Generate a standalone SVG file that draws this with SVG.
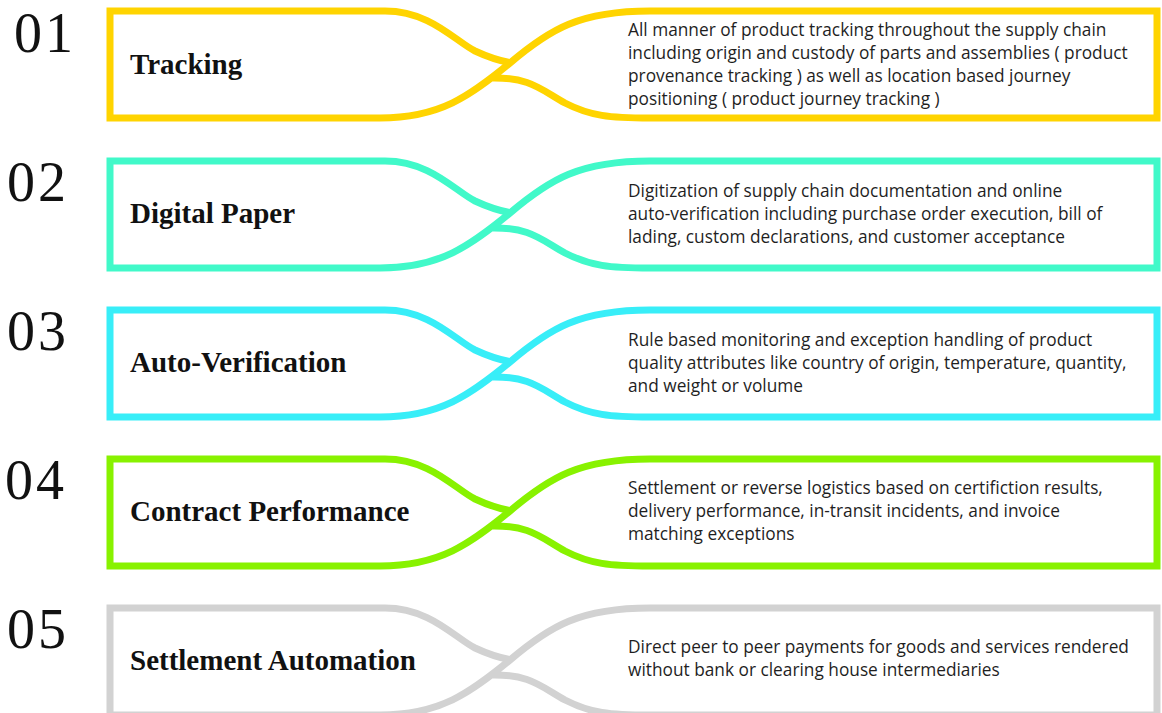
<svg xmlns="http://www.w3.org/2000/svg" width="1162" height="713" viewBox="0 0 1162 713">
<style>
.ribbon{fill:none;stroke-width:7;stroke-linejoin:miter;stroke-linecap:butt}
.num{font-family:"Liberation Serif",serif;font-size:56px;fill:#111;letter-spacing:3px}
.title{font-family:"Liberation Serif",serif;font-weight:bold;font-size:29px;fill:#111}
.desc{font-family:"Open Sans",sans-serif;font-size:17.3px;fill:#1f1f1f}
</style>
<defs>
<path id="twist" class="ribbon" d="M 490,67 C 530,66 540,78 565,92 C 590,105 610,107 650,107 L 1157,107 L 1157,0 L 650,0 C 580,0 550,18 510,52 C 470,85 440,107 380,107 L 110,107 L 110,0 L 385,0 C 430,0 455,30 475,40 C 490,47 500,50 512,52"/>
</defs>
<rect width="1162" height="713" fill="#fff"/>
<g id="connectors"></g>
<g id="row1" transform="translate(0,11)">
<use href="#twist" style="stroke:#FFD400"/>
<text class="num" x="14" y="41">01</text>
<text class="title" x="130" y="63">Tracking</text>
<text class="desc" x="628" y="25">All manner of product tracking throughout the supply chain</text>
<text class="desc" x="628" y="48">including origin and custody of parts and assemblies ( product</text>
<text class="desc" x="628" y="71">provenance tracking ) as well as location based journey</text>
<text class="desc" x="628" y="94">positioning ( product journey tracking )</text>
</g>
<g id="row2" transform="translate(0,161)">
<use href="#twist" style="stroke:#41F9C9"/>
<text class="num" x="7" y="40">02</text>
<text class="title" x="130" y="62">Digital Paper</text>
<text class="desc" x="628" y="36">Digitization of supply chain documentation and online</text>
<text class="desc" x="628" y="59">auto-verification including purchase order execution, bill of</text>
<text class="desc" x="628" y="82">lading, custom declarations, and customer acceptance</text>
</g>
<g id="row3" transform="translate(0,310)">
<use href="#twist" style="stroke:#38EEF8"/>
<text class="num" x="7" y="40">03</text>
<text class="title" x="130" y="62">Auto-Verification</text>
<text class="desc" x="628" y="36">Rule based monitoring and exception handling of product</text>
<text class="desc" x="628" y="59">quality attributes like country of origin, temperature, quantity,</text>
<text class="desc" x="628" y="82">and weight or volume</text>
</g>
<g id="row4" transform="translate(0,459)">
<use href="#twist" style="stroke:#88F200"/>
<text class="num" x="5" y="40">04</text>
<text class="title" x="130" y="62">Contract Performance</text>
<text class="desc" x="628" y="35">Settlement or reverse logistics based on certifiction results,</text>
<text class="desc" x="628" y="58">delivery performance, in-transit incidents, and invoice</text>
<text class="desc" x="628" y="81">matching exceptions</text>
</g>
<g id="row5" transform="translate(0,608)">
<use href="#twist" style="stroke:#D2D2D2"/>
<text class="num" x="7" y="40">05</text>
<text class="title" x="130" y="62">Settlement Automation</text>
<text class="desc" x="628" y="45">Direct peer to peer payments for goods and services rendered</text>
<text class="desc" x="628" y="68">without bank or clearing house intermediaries</text>
</g>
</svg>
